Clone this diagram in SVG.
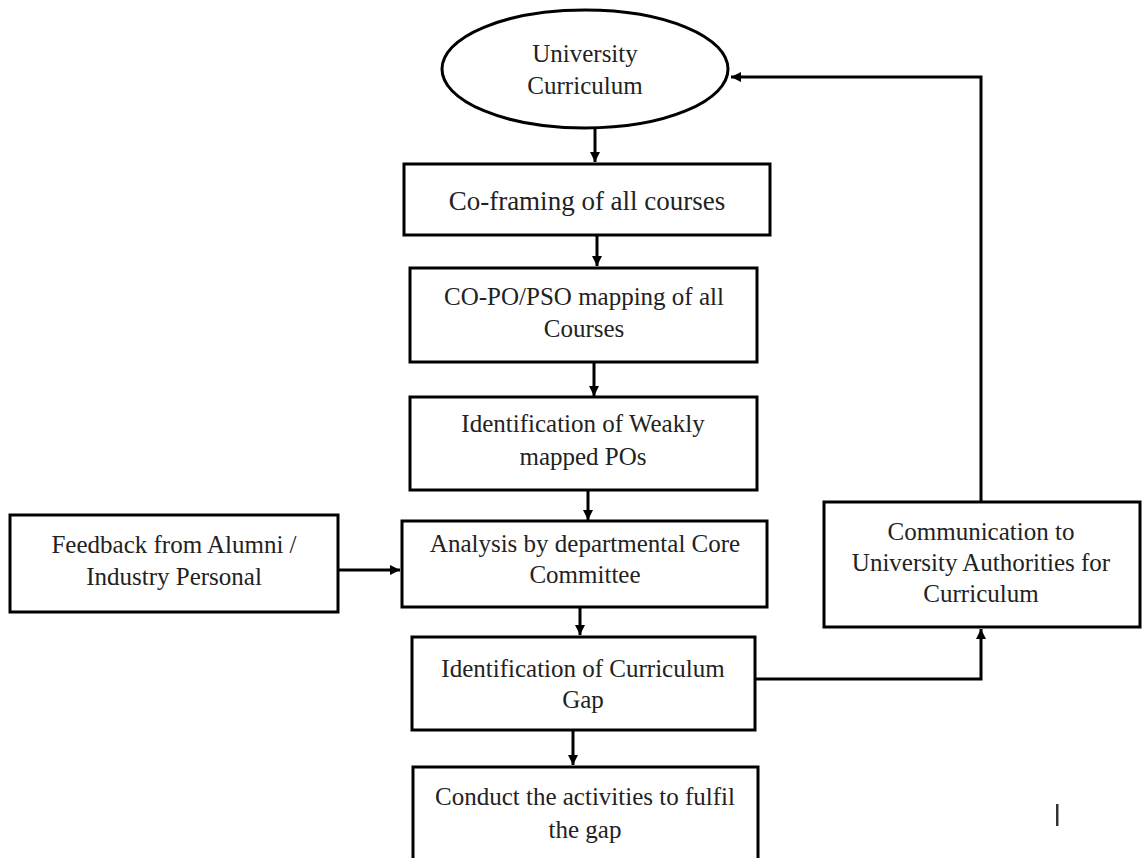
<svg xmlns="http://www.w3.org/2000/svg" width="1147" height="858" viewBox="0 0 1147 858">
  <defs>
    <marker id="arrow" viewBox="0 0 10 10" refX="10" refY="5" markerWidth="10" markerHeight="10" markerUnits="userSpaceOnUse" orient="auto">
      <path d="M0,0 L10,5 L0,10 Z" fill="#000"/>
    </marker>
    <style>
      .box { fill: #fff; stroke: #000; stroke-width: 3; }
      .lbl { font-size: 25px; fill: #222; text-anchor: middle; }
      .big { font-size: 27px; }
      .conn { fill: none; stroke: #000; stroke-width: 3; }
    </style>
  </defs>
  <rect width="1147" height="858" fill="#fff"/>

  <!-- flow connectors -->
  <g id="connectors">
    <path class="conn" d="M595,128 V162" marker-end="url(#arrow)"/>
    <path class="conn" d="M597,235 V266" marker-end="url(#arrow)"/>
    <path class="conn" d="M594,362 V396" marker-end="url(#arrow)"/>
    <path class="conn" d="M588,490 V520" marker-end="url(#arrow)"/>
    <path class="conn" d="M338,570 H400" marker-end="url(#arrow)"/>
    <path class="conn" d="M580,607 V635" marker-end="url(#arrow)"/>
    <path class="conn" d="M573,730 V765" marker-end="url(#arrow)"/>
    <path class="conn" d="M755,679 H981 V629" marker-end="url(#arrow)"/>
    <path class="conn" d="M981,502 V77 H731" marker-end="url(#arrow)"/>
  </g>

  <g font-family="'Liberation Serif', 'Times New Roman', serif">
    <g id="university-curriculum">
      <ellipse class="box" cx="585" cy="69" rx="143" ry="59"/>
      <text class="lbl" x="585" y="62">University</text>
      <text class="lbl" x="585" y="94">Curriculum</text>
    </g>

    <g id="co-framing">
      <rect class="box" x="404" y="164" width="366" height="71"/>
      <text class="lbl big" x="587" y="210">Co-framing of all courses</text>
    </g>

    <g id="co-po-mapping">
      <rect class="box" x="410" y="268" width="347" height="94"/>
      <text class="lbl" x="584" y="305">CO-PO/PSO mapping of all</text>
      <text class="lbl" x="584" y="337">Courses</text>
    </g>

    <g id="weakly-mapped">
      <rect class="box" x="410" y="397" width="347" height="93"/>
      <text class="lbl" x="583" y="432">Identification of Weakly</text>
      <text class="lbl" x="583" y="465">mapped POs</text>
    </g>

    <g id="feedback">
      <rect class="box" x="10" y="515" width="328" height="97"/>
      <text class="lbl" x="174" y="553">Feedback from Alumni /</text>
      <text class="lbl" x="174" y="585">Industry Personal</text>
    </g>

    <g id="analysis">
      <rect class="box" x="402" y="521" width="365" height="86"/>
      <text class="lbl" x="585" y="552">Analysis by departmental Core</text>
      <text class="lbl" x="585" y="583">Committee</text>
    </g>

    <g id="communication">
      <rect class="box" x="824" y="502" width="316" height="125"/>
      <text class="lbl" x="981" y="540">Communication to</text>
      <text class="lbl" x="981" y="571">University Authorities for</text>
      <text class="lbl" x="981" y="602">Curriculum</text>
    </g>

    <g id="curriculum-gap">
      <rect class="box" x="412" y="637" width="343" height="93"/>
      <text class="lbl" x="583" y="677">Identification of Curriculum</text>
      <text class="lbl" x="583" y="708">Gap</text>
    </g>

    <g id="conduct-activities">
      <rect class="box" x="413" y="767" width="345" height="96"/>
      <text class="lbl" x="585" y="805">Conduct the activities to fulfil</text>
      <text class="lbl" x="585" y="838">the gap</text>
    </g>
  </g>

  <rect x="1056" y="804" width="2.5" height="22" fill="#333"/>
</svg>
